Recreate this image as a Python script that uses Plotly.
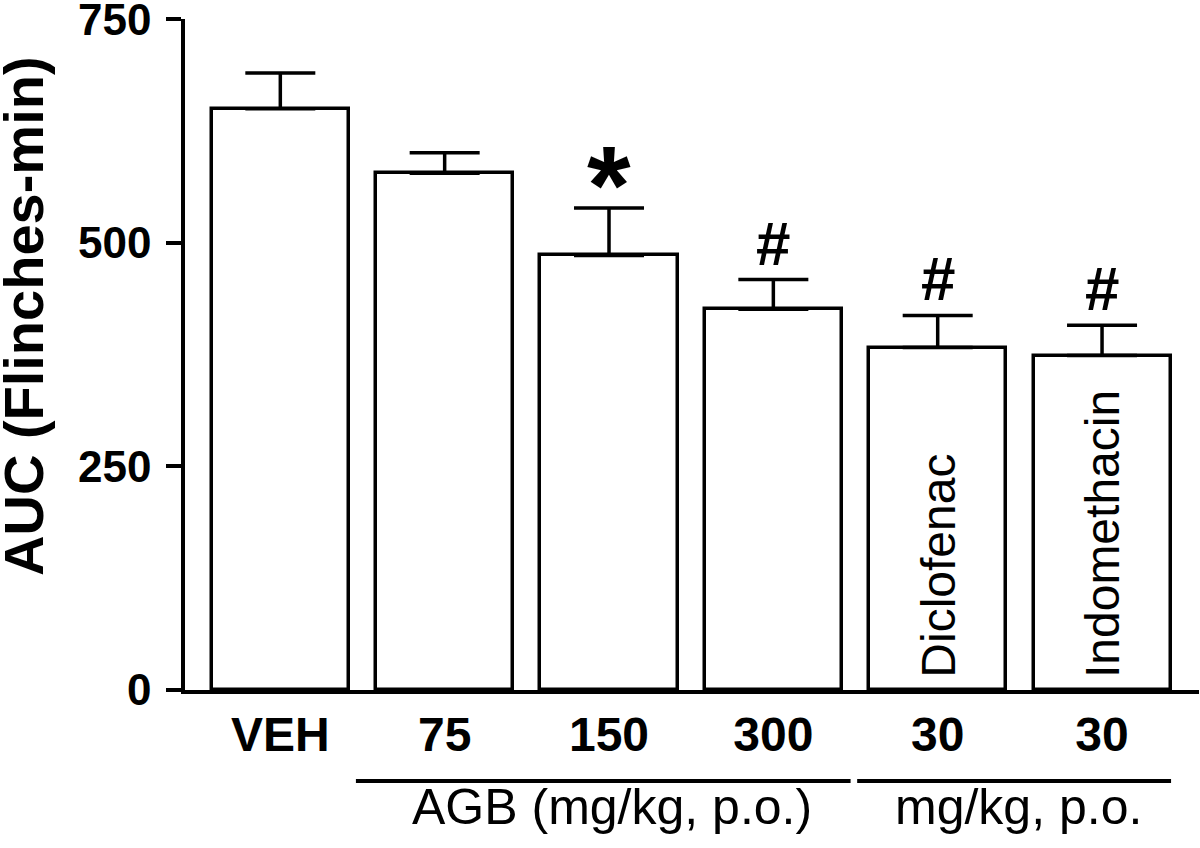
import plotly.graph_objects as go

# ---- data ----
groups = ["VEH", "AGB 75", "AGB 150", "AGB 300", "Diclofenac", "Indomethacin"]
dose_labels = ["VEH", "75", "150", "300", "30", "30"]
auc_mean = [650, 578, 486, 426, 383, 374]
auc_sem = [40, 23, 53, 33, 36, 34]
significance = ["", "", "*", "#", "#", "#"]
inside_labels = ["", "", "", "", "Diclofenac", "Indomethacin"]
y_ticks = [0, 250, 500, 750]
y_title = "AUC (Flinches-min)"
bracket_labels = ["AGB (mg/kg, p.o.)", "mg/kg, p.o."]

FONT = "Liberation Sans, Arial, Helvetica, sans-serif"
x_pos = list(range(len(groups)))

fig = go.Figure()
fig.add_trace(go.Bar(
    x=x_pos, y=auc_mean, width=0.834,
    marker=dict(color="white", line=dict(color="black", width=3.5)),
    error_y=dict(type="data", symmetric=False, array=auc_sem,
                 arrayminus=[0] * len(auc_sem), color="black",
                 thickness=3.5, width=35),
    showlegend=False, hoverinfo="skip",
))

annotations = []
for i, (m, s, sig) in enumerate(zip(auc_mean, auc_sem, significance)):
    if sig == "*":
        annotations.append(dict(x=i, y=m + s, xref="x", yref="y", text="<b>*</b>",
                                showarrow=False, yanchor="bottom", yshift=-42,
                                font=dict(family=FONT, size=112, color="black")))
    elif sig == "#":
        annotations.append(dict(x=i, y=m + s, xref="x", yref="y", text="<b>#</b>",
                                showarrow=False, yanchor="bottom", yshift=0,
                                font=dict(family=FONT, size=62, color="black")))
for i, lab in enumerate(inside_labels):
    if lab:
        annotations.append(dict(x=i, y=0, xref="x", yref="y", text=lab,
                                textangle=-90, showarrow=False, yanchor="bottom",
                                xanchor="center", yshift=10,
                                font=dict(family=FONT, size=48, color="black")))

# y-axis title
annotations.append(dict(x=-0.126, y=0.557, xref="paper", yref="paper",
                        text=f"<b>{y_title}</b>", textangle=-90, showarrow=False,
                        xanchor="right", yanchor="middle",
                        font=dict(family=FONT, size=56, color="black")))

# group brackets under axis (spans in category units, label centre)
bracket_spans = [(0.46, 3.47, 2.02), (3.51, 5.42, 4.49)]
shapes = []
for text, (x0, x1, cx) in zip(bracket_labels, bracket_spans):
    shapes.append(dict(type="line", xref="x", yref="paper",
                       x0=x0, x1=x1, y0=-0.1356, y1=-0.1356,
                       line=dict(color="black", width=4)))
    annotations.append(dict(x=cx, y=-0.175, xref="x", yref="paper", text=text,
                            showarrow=False, xanchor="center", yanchor="middle",
                            font=dict(family=FONT, size=50, color="black")))

fig.update_layout(
    width=1200, height=848,
    margin=dict(l=185, r=1, t=19, b=158),
    paper_bgcolor="white", plot_bgcolor="white",
    font=dict(family=FONT, color="black"),
    annotations=annotations, shapes=shapes,
    bargap=0,
)
fig.update_xaxes(
    range=[-0.58, 5.59], tickvals=x_pos,
    ticktext=[f"<b>{t}</b>" for t in dose_labels],
    tickfont=dict(family=FONT, size=48, color="black"),
    showline=True, linecolor="black", linewidth=3.5,
    ticks="", ticklen=0, showgrid=False, zeroline=False, ticklabelstandoff=0,
    automargin=False,
)
fig.update_yaxes(
    range=[0, 750.5], tickvals=y_ticks,
    ticktext=[f"<b>{t}</b>" for t in y_ticks],
    tickfont=dict(family=FONT, size=44, color="black"),
    showline=True, linecolor="black", linewidth=3.5,
    ticks="outside", ticklen=15, tickwidth=3.5, tickcolor="black",
    showgrid=False, zeroline=False, ticklabelstandoff=6,
    ticklabeloverflow="allow", automargin=False,
)

fig.write_html("out.html", config={"displayModeBar": False},
               post_script="document.body.style.margin='0';")
